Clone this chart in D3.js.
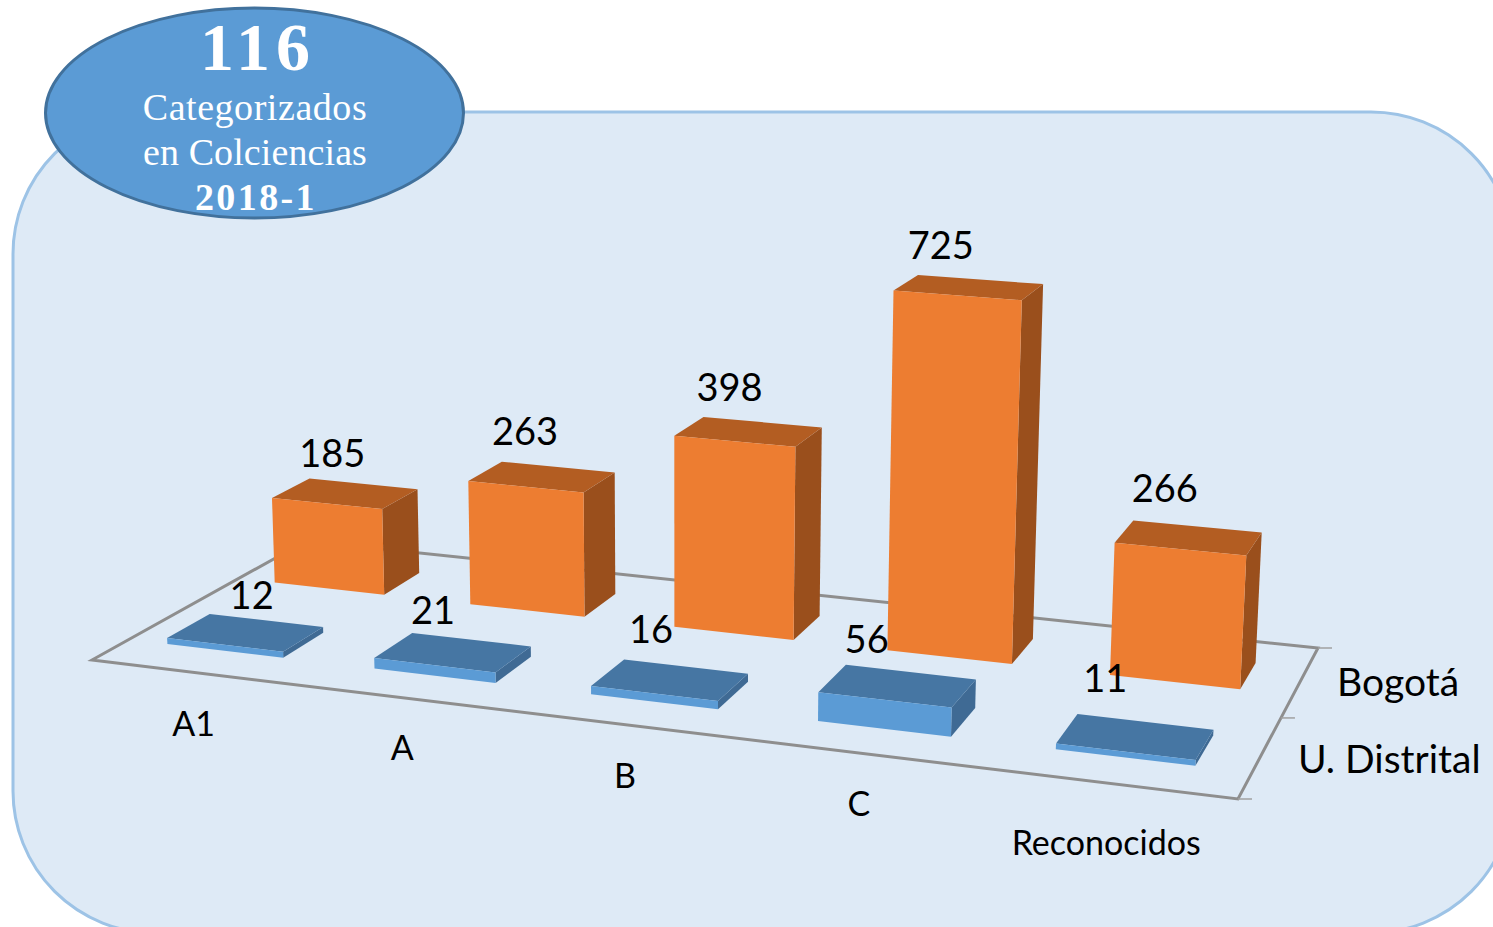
<!DOCTYPE html>
<html><head><meta charset="utf-8">
<script src="https://cdn.jsdelivr.net/npm/d3@7/dist/d3.min.js"></script>
<style>html,body{margin:0;padding:0;background:#fff;overflow:hidden}svg{display:block}</style>
</head><body><svg id="c" width="1493" height="927"></svg>
<script>
const categories = ["A1","A","B","C","Reconocidos"];
const seriesNames = ["U. Distrital","Bogotá"];
const distrital = [12,21,16,56,11];
const bogota = [185,263,398,725,266];
const badgeLines = ["116","Categorizados","en Colciencias","2018-1"];

// Hand placement of text relative to its mark, as the source chart has it
const bogotaLabelNudge = [[7,5],[3,0],[1,1],[-8,4],[-4,-4]];
const distritalLabelNudge = [[26,8],[0,4],[1,-5],[-11,-1],[-10,-13]];
const categoryLabelNudge = [[2,1],[-3,-1],[-4,0],[-5,0],[-4,9]];
const seriesLabelNudge = [[14,-20],[-17,-22]];

const svg = d3.select("#c");

// Camera: floor quadrilateral on screen, and vertical vanishing point
const floorQuad=[[92,660],[1238,799],[1318,648],[306,541]];
const vanish=[676,13000];
const pxPerUnit=0.487;

function homography(q){
  const [[x0,y0],[x1,y1],[x2,y2],[x3,y3]]=q;
  const dx1=x1-x2,dx2=x3-x2,sx=x0-x1+x2-x3,dy1=y1-y2,dy2=y3-y2,sy=y0-y1+y2-y3;
  const det=dx1*dy2-dx2*dy1;
  const g=(sx*dy2-sy*dx2)/det,h=(dx1*sy-dy1*sx)/det;
  return {a:x1-x0+g*x1,b:x3-x0+h*x3,c:x0,d:y1-y0+g*y1,e:y3-y0+h*y3,f:y0,g,h};
}
const M=homography(floorQuad);
const midW=M.g*.5+M.h*.5+1;
const lambda=-pxPerUnit*midW/(vanish[1]-600);

const xBand=d3.scaleBand().domain(categories).range([-0.006,0.999]).paddingInner(0.435).paddingOuter(0.22);
const zBand=d3.scaleBand().domain(seriesNames).range([0,1]).paddingInner(0.62).paddingOuter(0.31);
const yVal=d3.scaleLinear().domain([0,800]).range([0,800]);

function project(u,v,val){
  const y=yVal(val)*lambda;
  const wx=M.a*u+M.b*v+M.c, wy=M.d*u+M.e*v+M.f, w=M.g*u+M.h*v+1;
  return [(wx+y*vanish[0])/(w+y),(wy+y*vanish[1])/(w+y)];
}
const poly=pts=>pts.map(p=>p.map(n=>n.toFixed(1)).join(",")).join(" ");

// Panel
svg.append("rect").attr("x",13).attr("y",112).attr("width",1500).attr("height",821).attr("rx",142)
  .attr("fill","#DEEAF6").attr("stroke","#9DC3E6").attr("stroke-width",3);

// Floor
const gFloor=svg.append("g");
gFloor.append("polygon").attr("points",poly([project(0,0,0),project(1,0,0),project(1,1,0),project(0,1,0)]))
  .attr("fill","none").attr("stroke","#8E8E8E").attr("stroke-width",3);
[0,0.5,1].forEach(v=>{
  const p=project(1,v,0);
  gFloor.append("line").attr("x1",p[0]).attr("y1",p[1]).attr("x2",p[0]+14).attr("y2",p[1])
    .attr("stroke","#A0A0A0").attr("stroke-width",1.5);
});

const seriesStyle={
  "Bogotá":{front:"#ED7D31",top:"#B35D22",side:"#9A4F1C",values:bogota,nudge:bogotaLabelNudge},
  "U. Distrital":{front:"#5B9BD5",top:"#4676A3",side:"#3F6A94",values:distrital,nudge:distritalLabelNudge}
};
const drawOrder=["Bogotá","U. Distrital"];
const gBars=svg.append("g");
drawOrder.forEach(name=>{
  const st=seriesStyle[name];
  const v0=zBand(name),v1=v0+zBand.bandwidth();
  const g=gBars.append("g").selectAll("g").data(categories.map((c,i)=>({c,val:st.values[i]}))).join("g");
  const corners=d=>{const u0=xBand(d.c),u1=u0+xBand.bandwidth();return {u0,u1};};
  g.append("polygon").attr("fill",st.side).attr("points",d=>{const {u1}=corners(d);
    return poly([project(u1,v0,0),project(u1,v1,0),project(u1,v1,d.val),project(u1,v0,d.val)]);});
  g.append("polygon").attr("fill",st.top).attr("points",d=>{const {u0,u1}=corners(d);
    return poly([project(u0,v0,d.val),project(u1,v0,d.val),project(u1,v1,d.val),project(u0,v1,d.val)]);});
  g.append("polygon").attr("fill",st.front).attr("points",d=>{const {u0,u1}=corners(d);
    return poly([project(u0,v0,0),project(u1,v0,0),project(u1,v0,d.val),project(u0,v0,d.val)]);});
});

// Data labels
const sans="Lato, 'Open Sans', sans-serif";
const gLab=svg.append("g").attr("font-family",sans).attr("fill","#000").attr("text-anchor","middle");
drawOrder.forEach(name=>{
  const st=seriesStyle[name];
  const vm=zBand(name)+zBand.bandwidth()/2;
  gLab.selectAll(null).data(categories.map((c,i)=>({c,val:st.values[i],n:st.nudge[i]}))).join("text")
    .attr("font-size",38)
    .attr("x",d=>project(xBand(d.c)+xBand.bandwidth()/2,vm,d.val)[0]-20+d.n[0])
    .attr("y",d=>project(xBand(d.c)+xBand.bandwidth()/2,vm,d.val)[1]-32+d.n[1])
    .text(d=>d.val);
});

// Category labels
svg.append("g").attr("font-family",sans).attr("text-anchor","middle").selectAll("text")
  .data(categories).join("text").attr("font-size",34)
  .attr("x",(c,i)=>project(xBand(c)+xBand.bandwidth()/2,0,0)[0]+2+categoryLabelNudge[i][0])
  .attr("y",(c,i)=>project(xBand(c)+xBand.bandwidth()/2,0,0)[1]+63+categoryLabelNudge[i][1])
  .text(c=>c);

// Series labels
svg.append("g").attr("font-family",sans).attr("text-anchor","middle").selectAll("text")
  .data(seriesNames).join("text").attr("font-size",39)
  .attr("x",(s,i)=>project(1,zBand(s)+zBand.bandwidth()/2,0)[0]+115+seriesLabelNudge[i][0])
  .attr("y",(s,i)=>project(1,zBand(s)+zBand.bandwidth()/2,0)[1]+36+seriesLabelNudge[i][1])
  .text(s=>s);

// Badge
svg.append("ellipse").attr("cx",254.5).attr("cy",113).attr("rx",209).attr("ry",105)
  .attr("fill","#5B9BD5").attr("stroke","#41719C").attr("stroke-width",3);
const badge=svg.append("g").attr("font-family","'Liberation Serif',serif").attr("fill","#fff").attr("text-anchor","middle");
const bStyle=[{s:68,w:700,y:70,ls:6,dx:3},{s:38,w:400,y:120,ls:0.55,dx:0},{s:38,w:400,y:165,ls:0.1,dx:0},{s:38,w:700,y:210,ls:2.4,dx:1}];
badge.selectAll("text").data(badgeLines).join("text").attr("x",(d,i)=>255+bStyle[i].dx)
  .attr("y",(d,i)=>bStyle[i].y).attr("font-size",(d,i)=>bStyle[i].s).attr("font-weight",(d,i)=>bStyle[i].w)
  .attr("letter-spacing",(d,i)=>bStyle[i].ls).text(d=>d);
</script></body></html>
